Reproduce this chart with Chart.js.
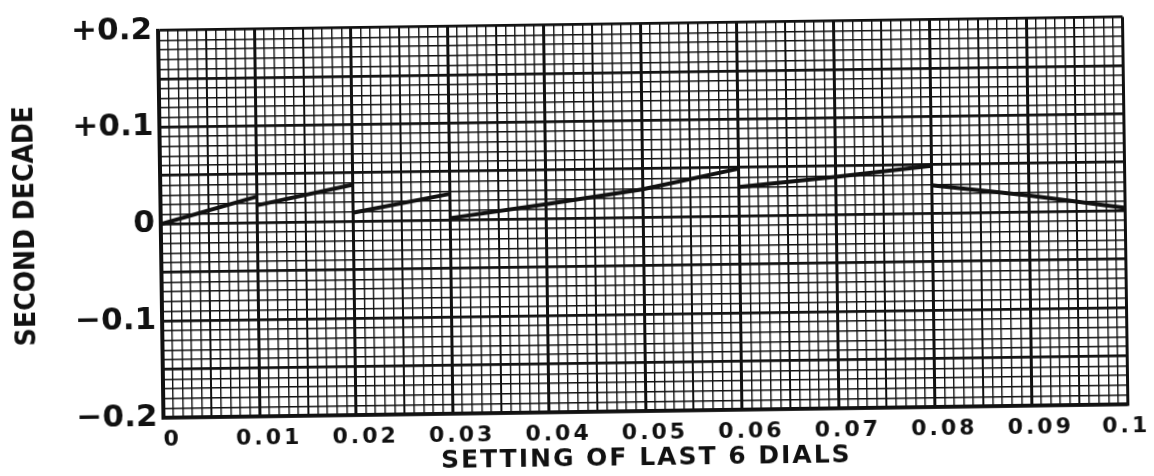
<!DOCTYPE html>
<html>
<head>
<meta charset="utf-8">
<script src="https://cdn.jsdelivr.net/npm/chart.js@4.4.1/dist/chart.umd.min.js"></script>
<style>
    html, body { margin: 0; padding: 0; background: #fff; overflow: hidden; }
    #wrap {
        width: 1154px;
        height: 476px;
        transform: rotate(-0.8deg);
        transform-origin: 577px 238px;
    }
</style>
</head>
<body>
<div id="wrap"><canvas id="dialchart"></canvas></div>
<script>
//Readings (setting of last 6 dials vs second decade)
const dialSetting = [0, 0.01, 0.01, 0.02, 0.02, 0.03, 0.03, 0.04, 0.05, 0.06, 0.06, 0.07, 0.08, 0.08, 0.09, 0.1];
const secondDecade = [0, 0.027, 0.018, 0.038, 0.009, 0.027, 0.002, 0.015, 0.029, 0.049, 0.030, 0.039, 0.049, 0.029, 0.017, 0.003];
//index where each sawtooth piece begins
const segmentStarts = [0, 2, 4, 6, 10, 13];

//Tick labels
const xTickLabels = ["0", "0.01", "0.02", "0.03", "0.04", "0.05", "0.06", "0.07", "0.08", "0.09", "0.1"];
const yTickLabels = ["\u22120.2", "\u22120.1", "0", "+0.1", "+0.2"];

//Graph paper lines: x every 0.001, y every 0.01
const xGrid = [];
for (let i = 0; i <= 100; i++) xGrid.push(i / 1000);
const yGrid = [];
for (let i = -20; i <= 20; i++) yGrid.push(i / 100);

//Split the readings into separate line pieces
const segments = segmentStarts.map((start, i) => {
    const end = i + 1 < segmentStarts.length ? segmentStarts[i + 1] : dialSetting.length;
    const pts = [];
    for (let j = start; j < end; j++) {
        pts.push({ x: dialSetting[j], y: secondDecade[j] });
    }
    return pts;
});

const ink = '#111';

//letter spacing for the hand lettering look
function spaced(scale, method, spacing) {
    const orig = scale[method];
    scale[method] = function (...args) {
        this.ctx.letterSpacing = spacing;
        orig.apply(this, args);
        this.ctx.letterSpacing = '0px';
    };
}
const letteringPlugin = {
    id: 'lettering',
    beforeDraw(chart) {
        const xs = chart.scales.x;
        if (!xs._spaced) {
            spaced(xs, 'drawLabels', '3px');
            spaced(xs, 'drawTitle', '2px');
            //pull the last label ("0.1") back inside the page
            const origItems = xs.getLabelItems;
            xs.getLabelItems = function (area) {
                const items = origItems.call(this, area);
                if (items.length && !items._nudged) {
                    items[items.length - 1].options.translation[0] -= 11;
                    items._nudged = true;
                }
                return items;
            };
            xs._spaced = true;
        }
    }
};

const dialChart = new Chart(
    document.getElementById('dialchart'),
    {
        type: 'line',
        data: {
            datasets: segments.map(seg => ({
                data: seg,
                borderColor: ink,
                borderWidth: 4,
                pointRadius: 0,
                tension: 0,
                fill: false,
            }))
        },
        options: {
            responsive: true,
            maintainAspectRatio: false,
            animation: false,
            layout: {
                padding: { top: 20, right: 23, left: 0, bottom: 0 }
            },
            scales: {
                x: {
                    type: 'linear',
                    min: 0,
                    max: 0.1,
                    afterBuildTicks: (scale) => { scale.ticks = xGrid.map(v => ({ value: v })); },
                    afterFit: (scale) => { scale.height = 64; },
                    grid: {
                        drawTicks: false,
                        color: ink,
                        lineWidth: (ctx) => {
                            const n = Math.round(ctx.tick.value * 1000);
                            if (n % 10 === 0) return 3;
                            if (n % 5 === 0) return 2;
                            return 1.4;
                        },
                    },
                    border: { color: ink, width: 3.5 },
                    ticks: {
                        autoSkip: false,
                        maxRotation: 0,
                        padding: 9,
                        labelOffset: 9,
                        color: ink,
                        font: { family: 'DejaVu Sans', weight: 'bold', size: 22 },
                        callback: (v) => {
                            const n = Math.round(v * 1000);
                            return n % 10 === 0 ? xTickLabels[n / 10] : '';
                        }
                    },
                    title: {
                        display: true,
                        text: 'SETTING OF LAST 6 DIALS',
                        color: ink,
                        font: { family: 'DejaVu Sans', weight: 'bold', size: 25 },
                        padding: { top: 4, bottom: 2 }
                    }
                },
                y: {
                    min: -0.2,
                    max: 0.2,
                    afterBuildTicks: (scale) => { scale.ticks = yGrid.map(v => ({ value: v })); },
                    afterFit: (scale) => { scale.width = 161; },
                    grid: {
                        drawTicks: false,
                        color: ink,
                        lineWidth: (ctx) => {
                            const n = Math.round(ctx.tick.value * 100);
                            return n % 5 === 0 ? 2.8 : 1.4;
                        },
                    },
                    border: { color: ink, width: 3.5 },
                    ticks: {
                        autoSkip: false,
                        padding: 6,
                        color: ink,
                        font: { family: 'DejaVu Sans', weight: 'bold', size: 31 },
                        callback: (v) => {
                            const n = Math.round(v * 100);
                            return n % 10 === 0 ? yTickLabels[n / 10 + 2] : '';
                        }
                    },
                    title: {
                        display: true,
                        text: 'SECOND DECADE',
                        color: ink,
                        font: { family: "'DejaVu Sans Condensed', 'DejaVu Sans'", weight: 'bold', size: 28 },
                        padding: { top: 10, bottom: 0 }
                    }
                }
            },
            plugins: {
                legend: { display: false },
                tooltip: { enabled: false },
            },
        },
        plugins: [letteringPlugin]
    }
);
</script>
</body>
</html>
